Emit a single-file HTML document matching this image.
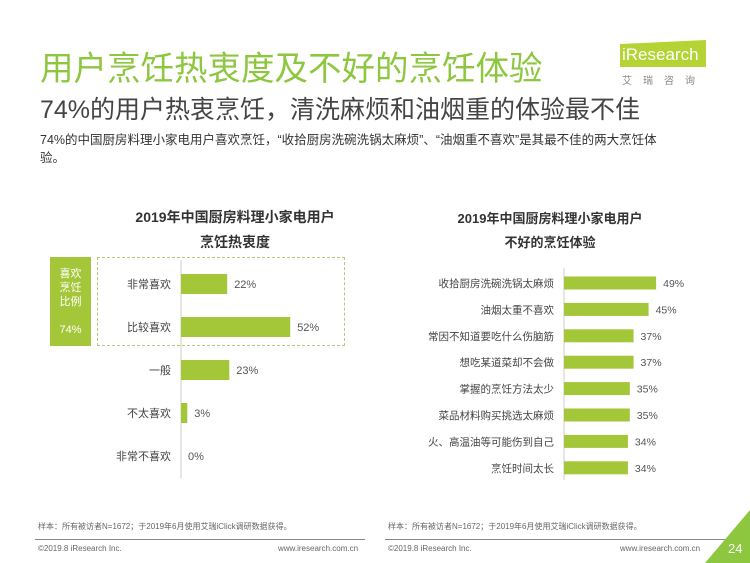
<!DOCTYPE html>
<html><head><meta charset="utf-8">
<style>
body{margin:0;width:750px;height:563px;overflow:hidden;background:#fff;font-family:"Liberation Sans","Noto Sans CJK SC",sans-serif;position:relative}
.a{position:absolute;white-space:nowrap}
</style></head><body>
<div class="a" style="left:40px;top:41px;font-size:33.5px;color:#8dc63f">用户烹饪热衷度及不好的烹饪体验</div>
<div class="a" style="left:620px;top:40px;width:86px;height:27px;background:#b5d334;clip-path:polygon(0 15%,100% 0,100% 100%,0 100%)"></div>
<div class="a" style="left:622px;top:45px;font-size:17px;color:#fff">iResearch</div>
<div class="a" style="left:622px;top:72px;font-size:10px;color:#888;letter-spacing:11px">艾瑞咨询</div>
<div class="a" style="left:40px;top:90px;font-size:25px;color:#444">74%的用户热衷烹饪，清洗麻烦和油烟重的体验最不佳</div>
<div class="a" style="left:40px;top:131px;font-size:12.5px;color:#333;line-height:18px;white-space:normal;width:625px">74%的中国厨房料理小家电用户喜欢烹饪，“收拾厨房洗碗洗锅太麻烦”、“油烟重不喜欢”是其最不佳的两大烹饪体验。</div>
<div class="a" style="left:100px;top:205px;width:270px;text-align:center;font-size:14px;font-weight:bold;color:#333;line-height:25px">2019年中国厨房料理小家电用户<br>烹饪热衷度</div>
<div class="a" style="left:410px;top:207px;width:280px;text-align:center;font-size:13px;font-weight:bold;color:#333;line-height:24px">2019年中国厨房料理小家电用户<br>不好的烹饪体验</div>
<div class="a" style="left:50px;top:257px;width:41px;height:89px;background:#a4c639;color:#fff;font-size:11px;text-align:center;line-height:14px;padding-top:10px;box-sizing:border-box">喜欢<br>烹饪<br>比例<br><br>74%</div>
<div class="a" style="left:97px;top:257px;width:248px;height:89px;border:1px dashed #b5c97a;box-sizing:border-box"></div>
<svg id="chart" class="a" style="left:0;top:0" width="750" height="563"></svg>
<div class="a" style="left:38px;top:521px;font-size:8px;color:#666;width:320px">样本：所有被访者N=1672；于2019年6月使用艾瑞iClick调研数据获得。</div>
<div class="a" style="left:388px;top:521px;font-size:8px;color:#666">样本：所有被访者N=1672；于2019年6月使用艾瑞iClick调研数据获得。</div>
<div class="a" style="left:35px;top:539px;width:330px;height:1px;background:#888"></div>
<div class="a" style="left:385px;top:539px;width:343px;height:1px;background:#888"></div>
<div class="a" style="left:38px;top:544px;font-size:8px;color:#666">©2019.8 iResearch Inc.</div>
<div class="a" style="left:278px;top:544px;font-size:8px;color:#666">www.iresearch.com.cn</div>
<div class="a" style="left:388px;top:544px;font-size:8px;color:#666">©2019.8 iResearch Inc.</div>
<div class="a" style="left:620px;top:544px;font-size:8px;color:#666">www.iresearch.com.cn</div>
<div class="a" style="left:705px;top:510px;width:45px;height:53px;background:#8dc63f;clip-path:polygon(100% 0,100% 100%,0 100%)"></div>
<div class="a" style="left:728px;top:541px;font-size:13px;color:#fff">24</div>
<script>
const leftCats=["非常喜欢","比较喜欢","一般","不太喜欢","非常不喜欢"];
const leftVals=[22,52,23,3,0];
const rightCats=["收拾厨房洗碗洗锅太麻烦","油烟太重不喜欢","常因不知道要吃什么伤脑筋","想吃某道菜却不会做","掌握的烹饪方法太少","菜品材料购买挑选太麻烦","火、高温油等可能伤到自己","烹饪时间太长"];
const rightVals=[49,45,37,37,35,35,34,34];
const svg=document.getElementById('chart');const NS='http://www.w3.org/2000/svg';
function mk(t,a){const e=document.createElementNS(NS,t);for(const k in a)e.setAttribute(k,a[k]);svg.appendChild(e);return e;}
function draw(cats,vals,x0,pxPer,y0,step,bh,axisTop,axisBot,fs,prefix){
  const ax=mk('line',{x1:x0,x2:x0,y1:axisTop,y2:axisBot,stroke:'#ccc'});
  
  
  cats.forEach((c,i)=>{
    const y=y0+i*step,w=vals[i]*pxPer;
    const r=mk('rect',{x:x0,y:y-bh/2,width:w,height:bh,fill:'#a4c639'});
    
    
    const l=mk('text',{x:x0-10,y:y+4,'text-anchor':'end','font-size':fs,fill:'#444'});l.textContent=c;
    
    
    const v=mk('text',{x:x0+w+7,y:y+4,'font-size':fs,fill:'#555'});v.textContent=vals[i]+'%';
    
    
  });
}
draw(leftCats,leftVals,181,2.1,284,43,20,260,478,11,'left');
draw(rightCats,rightVals,564,1.88,283,26.4,13,268,480,10.5,'right');
</script>
</body></html>
